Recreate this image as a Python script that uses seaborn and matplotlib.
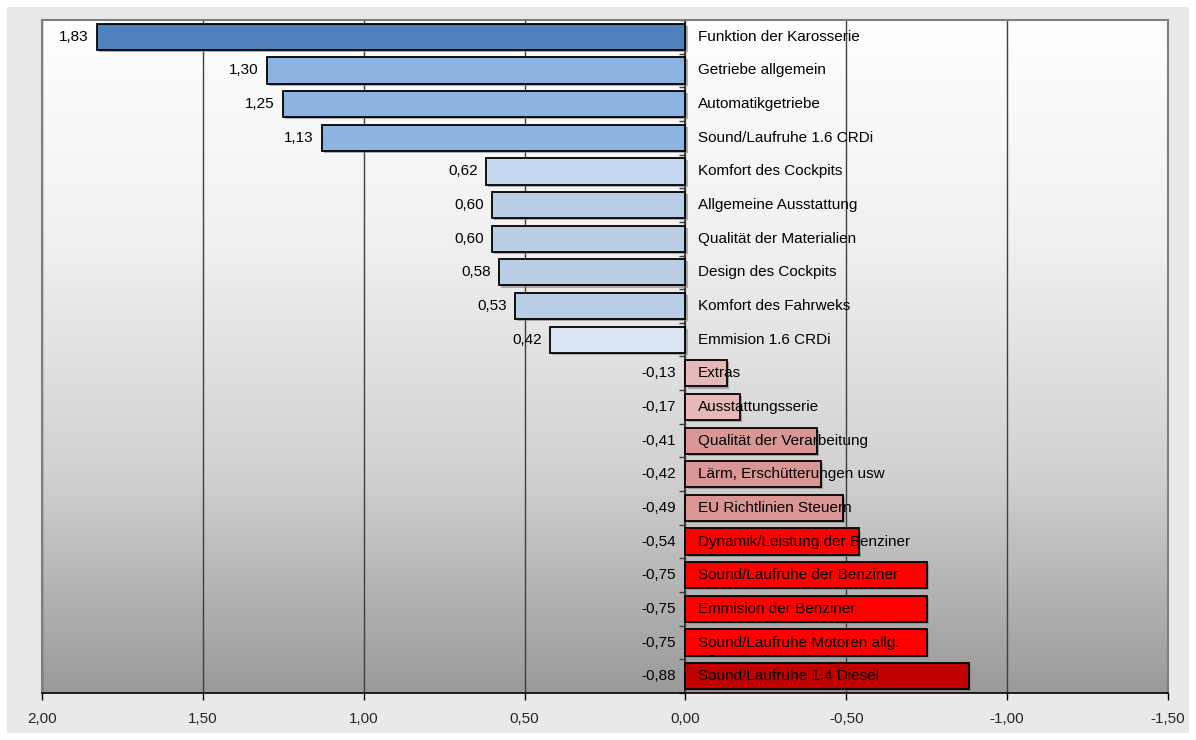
import numpy as np
import matplotlib
matplotlib.use("Agg")
import matplotlib.pyplot as plt
import matplotlib.patheffects as pe
from matplotlib.colors import LinearSegmentedColormap
from matplotlib.patches import Rectangle
from matplotlib.ticker import FuncFormatter, FixedLocator
import seaborn as sns

# --- data -----------------------------------------------------------------
categories = [
    "Funktion der Karosserie", "Getriebe allgemein", "Automatikgetriebe",
    "Sound/Laufruhe 1.6 CRDi", "Komfort des Cockpits", "Allgemeine Ausstattung",
    "Qualität der Materialien", "Design des Cockpits", "Komfort des Fahrweks",
    "Emmision 1.6 CRDi", "Extras", "Ausstattungsserie",
    "Qualität der Verarbeitung", "Lärm, Erschütterungen usw",
    "EU Richtlinien Steuern", "Dynamik/Leistung der Benziner",
    "Sound/Laufruhe der Benziner", "Emmision der Benziner",
    "Sound/Laufruhe Motoren allg.", "Sound/Laufruhe 1.4 Diesel",
]
values = [1.83, 1.30, 1.25, 1.13, 0.62, 0.60, 0.60, 0.58, 0.53, 0.42,
          -0.13, -0.17, -0.41, -0.42, -0.49, -0.54, -0.75, -0.75, -0.75, -0.88]
bar_colors = ["#4f81bd", "#8db3e2", "#8db3e2", "#8db3e2", "#c6d9f1",
              "#b9cde5", "#b9cde5", "#b9cde5", "#b9cde5", "#dbe5f1",
              "#e6b9b8", "#e6b9b8", "#d99694", "#d99694", "#d99694",
              "#ff0000", "#ff0000", "#ff0000", "#ff0000", "#c00000"]
x_ticks = [2.0, 1.5, 1.0, 0.5, 0.0, -0.5, -1.0, -1.5]


def fmt_de(v, _pos=None):
    return f"{v:.2f}".replace(".", ",")


sns.set_theme(style="white")
plt.rcParams["font.family"] = ["Liberation Sans", "DejaVu Sans"]

W, H = 1196, 740
FS = 11
fig = plt.figure(figsize=(W / 100, H / 100), dpi=100, facecolor="white")
fig.patches.append(Rectangle((7 / W, 7 / H), 1182 / W, 726 / H,
                             transform=fig.transFigure, facecolor="#e9e9e9",
                             edgecolor="none", zorder=-10))
ax = fig.add_axes([42 / W, 1 - 693 / H, 1126 / W, 673 / H])

# gradient background of the plot area
grad = np.linspace(0, 1, 256).reshape(-1, 1)
cmap = LinearSegmentedColormap.from_list("bg", ["#ffffff", "#f0f0f0", "#d2d2d2", "#9a9a9a"])
ax.imshow(grad, cmap=cmap, aspect="auto", extent=[0, 1, 0, 1],
          transform=ax.transAxes, zorder=0, interpolation="bilinear")

sns.barplot(x=values, y=categories, hue=categories, palette=bar_colors,
            saturation=1, dodge=False, legend=False, orient="h", width=0.78,
            edgecolor="black", linewidth=1.3, ax=ax, zorder=2)
for p in ax.patches:
    p.set_path_effects([pe.SimplePatchShadow(offset=(1.5, -1.5), shadow_rgbFace="#7f7f7f", alpha=0.6),
                        pe.Normal()])

ax.set_xlim(2.0, -1.5)
ax.set_ylim(len(categories) - 0.5, -0.5)

# labels
for i, (cat, v) in enumerate(zip(categories, values)):
    if v > 0:
        ax.annotate(fmt_de(v), xy=(v, i), xytext=(-6, 0), textcoords="offset points",
                    ha="right", va="center", fontsize=FS, color="black", zorder=5)
    else:
        ax.annotate(fmt_de(v), xy=(0, i), xytext=(-7, 0), textcoords="offset points",
                    ha="right", va="center", fontsize=FS, color="black", zorder=5)
    ax.annotate(cat, xy=(0, i), xytext=(9, 0), textcoords="offset points",
                ha="left", va="center", fontsize=FS, color="black", zorder=5)

# axes styling
ax.xaxis.set_major_locator(FixedLocator(x_ticks))
ax.xaxis.set_major_formatter(FuncFormatter(fmt_de))
ax.tick_params(axis="x", direction="out", length=5, width=1, color="black",
               labelsize=FS, pad=9, bottom=True)
ax.set_yticks([])
ax.set_axisbelow(True)
ax.xaxis.grid(True, color="#3f3f3f", linewidth=1)
ax.yaxis.grid(False)
for side in ["top", "right", "left"]:
    ax.spines[side].set_color("#7f7f7f")
    ax.spines[side].set_linewidth(1.5)
ax.spines["bottom"].set_color("black")
ax.spines["bottom"].set_linewidth(1.2)

# category axis ticks at zero
zero_frac = (2.0 - 0.0) / 3.5
sec = ax.secondary_yaxis(zero_frac)
sec.set_yticks(np.arange(len(categories) + 1) - 0.5)
sec.set_yticklabels([])
sec.tick_params(axis="y", direction="in", length=4, color="#3f3f3f", width=1)
sec.spines["left"].set_color("#3f3f3f")

fig.savefig("out.png", dpi=100, facecolor=fig.get_facecolor())
